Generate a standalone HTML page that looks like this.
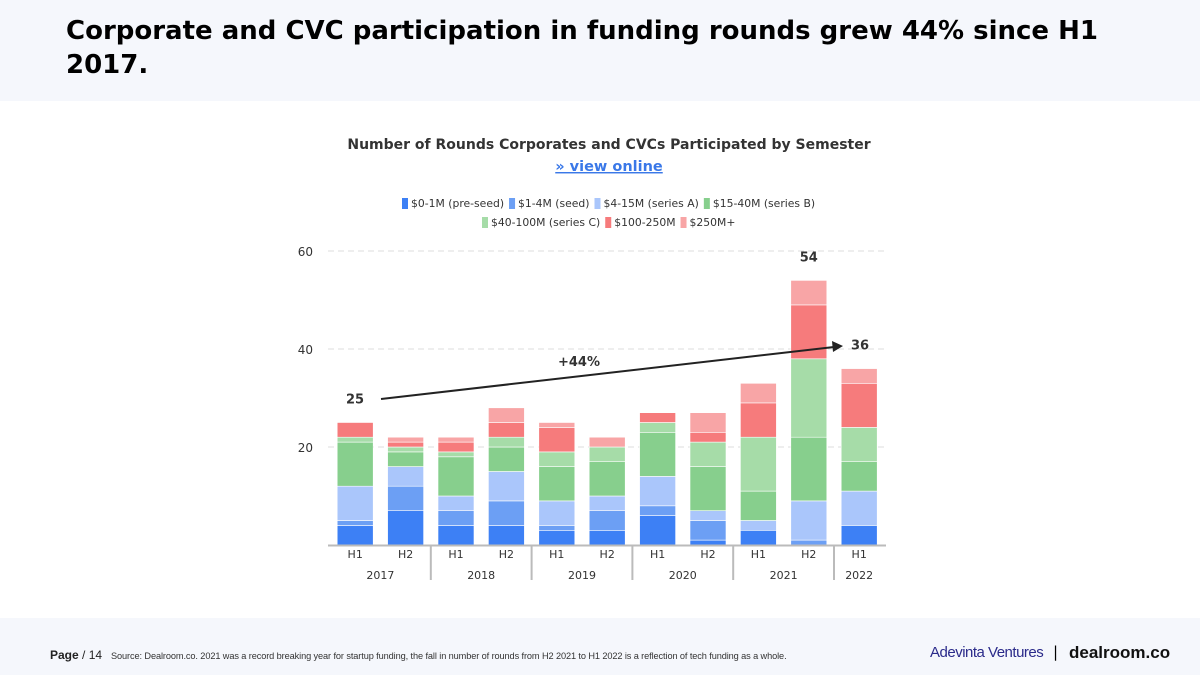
<!DOCTYPE html>
<html><head><meta charset="utf-8">
<style>
body{margin:0;width:1200px;height:675px;position:relative;background:#fff;font-family:"DejaVu Sans",sans-serif;overflow:hidden}
#top{position:absolute;left:0;top:0;width:1200px;height:101px;background:#f5f7fc}
#title{position:absolute;left:66px;top:14px;font-size:26px;font-weight:bold;color:#000;line-height:34px;width:1100px}
#foot{position:absolute;left:0;top:618px;width:1200px;height:57px;background:#f5f7fc}
</style></head><body>
<div id="top"></div>
<div id="title">Corporate and CVC participation in funding rounds grew 44% since H1 2017.</div>
<div id="foot">
<span style="position:absolute;left:50px;top:30px;font-size:12px;color:#222;font-family:'Liberation Sans',sans-serif"><b>Page</b> / 14</span>
<span style="position:absolute;left:111px;top:33px;font-size:9.2px;color:#333;font-family:'Liberation Sans',sans-serif;letter-spacing:-0.1px">Source: Dealroom.co. 2021 was a record breaking year for startup funding, the fall in number of rounds from H2 2021 to H1 2022 is a reflection of tech funding as a whole.</span>
<span style="position:absolute;left:930px;top:26px;font-size:15px;color:#2a2a8a;font-family:'Liberation Sans',sans-serif;letter-spacing:-0.5px">Adevinta Ventures</span>
<span style="position:absolute;left:1053px;top:25px;font-size:15px;color:#000">|</span>
<span style="position:absolute;left:1069px;top:25px;font-size:17px;font-weight:bold;color:#111;font-family:'Liberation Sans',sans-serif">dealroom.co</span>
</div>
<svg id="chart" width="1200" height="675" style="position:absolute;left:0;top:0"></svg>
<script>
const categories=["H1","H2","H1","H2","H1","H2","H1","H2","H1","H2","H1"];
const years=["2017","2018","2019","2020","2021","2022"];
const seriesNames=["$0-1M (pre-seed)","$1-4M (seed)","$4-15M (series A)","$15-40M (series B)","$40-100M (series C)","$100-250M","$250M+"];
const seriesColors=["#3d80f5","#6c9ff4","#aac6fb","#87cf8d","#a6dca8","#f67b7c","#f8a5a6"];
const s0=[4,7,4,4,3,3,6,1,3,0,4];
const s1=[1,5,3,5,1,4,2,4,0,1,0];
const s2=[7,4,3,6,5,3,6,2,2,8,7];
const s3=[9,3,8,5,7,7,9,9,6,13,6];
const s4=[1,1,1,2,3,3,2,5,11,16,7];
const s5=[3,1,2,3,5,0,2,2,7,11,9];
const s6=[0,1,1,3,1,2,0,4,4,5,3];
const yTicks=[20,40,60];
const annotations=[{i:0,v:25},{i:9,v:54},{i:10,v:36}];
const series=[s0,s1,s2,s3,s4,s5,s6];
const NS="http://www.w3.org/2000/svg";
const svg=document.getElementById('chart');
const x0=330,step=50.4,y0=545,pxu=4.9;
const X=i=>x0+step*(i+0.5);
const Y=v=>y0-v*pxu;
function el(t,a,p){const e=document.createElementNS(NS,t);for(const k in a)e.setAttribute(k,a[k]);(p||svg).appendChild(e);return e;}
function tx(s,a){const e=el('text',a);e.textContent=s;return e;}
let t=tx("Number of Rounds Corporates and CVCs Participated by Semester",{x:609,y:149,'text-anchor':'middle','font-size':14,'font-weight':'bold',fill:'#333'});

t=tx("» view online",{x:609,y:171,'text-anchor':'middle','font-size':14.5,'font-weight':'bold',fill:'#3a78e8','text-decoration':'underline'});

const rows=[[0,1,2,3],[4,5,6]];const rowX=[402,482];const rowY=[207,226];
rows.forEach((r,ri)=>{let x=rowX[ri];r.forEach(si=>{
 const g=el('g',{});
 el('rect',{x:x,y:rowY[ri]-9,width:6,height:11,fill:seriesColors[si]},g);
 const tt=el('text',{x:x+9,y:rowY[ri],'font-size':10.8,fill:'#333'},g);tt.textContent=seriesNames[si];
 x+=9+tt.getComputedTextLength()+5;});});
yTicks.forEach(v=>{const l=el('line',{x1:328,x2:886,y1:Y(v),y2:Y(v),stroke:'#ddd','stroke-dasharray':'6,4'});
 
 const tl=tx(String(v),{x:313,y:Y(v)+5,'text-anchor':'end','font-size':12,fill:'#333'});
 });
categories.forEach((c,i)=>{let acc=0;series.forEach((s,si)=>{if(s[i]>0){
 const r=el('rect',{x:X(i)-18,y:Y(acc+s[i]),width:36,height:s[i]*pxu,fill:seriesColors[si],stroke:'#fff','stroke-width':0.6});
 }acc+=s[i];});
 const cl=tx(c,{x:X(i),y:558,'text-anchor':'middle','font-size':11,fill:'#333'});
 });
const ax=el('line',{x1:328,x2:886,y1:y0+0.5,y2:y0+0.5,stroke:'#bbb','stroke-width':2});

years.forEach((yr,k)=>{const a=k*2,b=Math.min(a+1,categories.length-1);
 const yl=tx(yr,{x:(X(a)+X(b))/2,y:579,'text-anchor':'middle','font-size':11,fill:'#333'});
 
 if(k>0){const s=el('line',{x1:x0+step*a,x2:x0+step*a,y1:546,y2:580,stroke:'#bbb','stroke-width':2});
 }});
annotations.forEach(a=>{const px=a.i===0?355:(a.i===10?860:X(a.i));const py=Y(a.v)-19;
 const at=tx(String(a.v),{x:px,y:py,'text-anchor':'middle','font-size':13,'font-weight':'bold',fill:'#333'});
 });
const tr=el('line',{x1:381,y1:399,x2:834,y2:347,stroke:'#222','stroke-width':2});

const ah=el('polygon',{points:'843,346 832,341 833,352',fill:'#222'});

const pl=tx("+44%",{x:579,y:366,'text-anchor':'middle','font-size':13,'font-weight':'bold',fill:'#333'});

</script>
</body></html>
